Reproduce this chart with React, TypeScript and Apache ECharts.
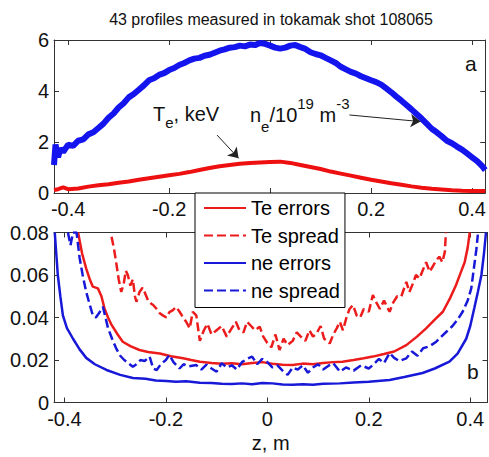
import React, { useEffect, useRef } from "react";
import * as echarts from "echarts";

const FONT = "'Liberation Sans', Arial, sans-serif";
const TITLE = "43 profiles measured in tokamak shot 108065";
const X_TICKS = [-0.4, -0.2, 0, 0.2, 0.4];
// the "0" label of panel a is hidden behind the legend in the reference
const X_LABELS_TOP_PANEL = [-0.4, -0.2, 0.2, 0.4];
const LEGEND_NAMES = ["Te errors", "Te spread", "ne errors", "ne spread"];

// Panel a: electron density profile (n_e / 1e19 m^-3)
const neZ = [-0.428, -0.425, -0.42, -0.415, -0.41, -0.4, -0.39, -0.38, -0.37, -0.36, -0.35, -0.34, -0.33, -0.32, -0.31, -0.3, -0.29, -0.28, -0.27, -0.26, -0.25, -0.24, -0.23, -0.22, -0.21, -0.2, -0.19, -0.18, -0.17, -0.16, -0.15, -0.14, -0.13, -0.12, -0.11, -0.1, -0.09, -0.08, -0.07, -0.06, -0.05, -0.04, -0.03, -0.02, -0.01, 0, 0.01, 0.02, 0.03, 0.04, 0.05, 0.06, 0.07, 0.08, 0.09, 0.1, 0.11, 0.12, 0.13, 0.14, 0.15, 0.16, 0.17, 0.18, 0.19, 0.2, 0.21, 0.22, 0.23, 0.24, 0.25, 0.26, 0.27, 0.28, 0.29, 0.3, 0.31, 0.32, 0.33, 0.34, 0.35, 0.36, 0.37, 0.38, 0.39, 0.4, 0.41, 0.42, 0.426];
const neVal = [1.1, 1.9, 1.4, 1.75, 1.6, 1.9, 1.85, 2.05, 2.1, 2.3, 2.38, 2.55, 2.72, 2.95, 3.12, 3.35, 3.52, 3.75, 3.88, 4.05, 4.22, 4.42, 4.5, 4.63, 4.7, 4.82, 4.9, 5.02, 5.1, 5.2, 5.27, 5.3, 5.38, 5.42, 5.5, 5.58, 5.63, 5.7, 5.72, 5.78, 5.75, 5.82, 5.8, 5.88, 5.85, 5.78, 5.7, 5.66, 5.7, 5.78, 5.8, 5.72, 5.65, 5.52, 5.45, 5.4, 5.3, 5.2, 5.1, 4.95, 4.85, 4.75, 4.68, 4.58, 4.5, 4.42, 4.35, 4.25, 4.1, 3.95, 3.78, 3.62, 3.45, 3.28, 3.1, 2.92, 2.72, 2.52, 2.38, 2.22, 2.05, 1.95, 1.82, 1.7, 1.55, 1.4, 1.25, 1.05, 0.9];

// Panel a: electron temperature profile (keV)
const teZ = [-0.428, -0.42, -0.41, -0.4, -0.38, -0.36, -0.34, -0.32, -0.3, -0.28, -0.26, -0.24, -0.22, -0.2, -0.18, -0.16, -0.14, -0.12, -0.1, -0.08, -0.06, -0.04, -0.02, 0, 0.02, 0.04, 0.06, 0.08, 0.1, 0.12, 0.14, 0.16, 0.18, 0.2, 0.22, 0.24, 0.26, 0.28, 0.3, 0.32, 0.34, 0.36, 0.38, 0.4, 0.426];
const teVal = [0.12, 0.15, 0.22, 0.15, 0.18, 0.25, 0.3, 0.34, 0.4, 0.45, 0.52, 0.58, 0.64, 0.7, 0.75, 0.82, 0.9, 0.98, 1.05, 1.1, 1.15, 1.18, 1.2, 1.22, 1.23, 1.18, 1.1, 1.02, 0.94, 0.84, 0.76, 0.68, 0.6, 0.52, 0.45, 0.38, 0.32, 0.26, 0.21, 0.17, 0.14, 0.11, 0.09, 0.08, 0.08];

// Panel b: Te errors
const teErrZ = [-0.373, -0.365, -0.357, -0.35, -0.344, -0.334, -0.327, -0.321, -0.314, -0.307, -0.295, -0.285, -0.27, -0.252, -0.235, -0.212, -0.19, -0.166, -0.15, -0.133, -0.11, -0.09, -0.07, -0.05, -0.03, -0.01, 0.01, 0.03, 0.05, 0.07, 0.09, 0.11, 0.13, 0.148, 0.17, 0.19, 0.208, 0.23, 0.25, 0.274, 0.295, 0.313, 0.33, 0.346, 0.36, 0.372, 0.381, 0.389, 0.395, 0.399];
const teErrVal = [0.08, 0.07, 0.063, 0.058, 0.0545, 0.0537, 0.05, 0.0443, 0.04, 0.0365, 0.032, 0.0286, 0.0265, 0.0247, 0.0238, 0.0231, 0.0218, 0.0208, 0.02, 0.0192, 0.0186, 0.0182, 0.0185, 0.018, 0.0186, 0.019, 0.0182, 0.0178, 0.0176, 0.0183, 0.018, 0.0186, 0.019, 0.0192, 0.02, 0.0208, 0.0216, 0.0228, 0.024, 0.027, 0.031, 0.0349, 0.039, 0.0427, 0.049, 0.0553, 0.061, 0.066, 0.073, 0.08];

// Panel b: Te spread
const teSprZ = [-0.307, -0.302, -0.298, -0.293, -0.288, -0.283, -0.279, -0.275, -0.27, -0.265, -0.261, -0.258, -0.252, -0.246, -0.242, -0.235, -0.229, -0.225, -0.218, -0.212, -0.206, -0.199, -0.193, -0.186, -0.18, -0.173, -0.166, -0.16, -0.153, -0.147, -0.14, -0.133, -0.125, -0.118, -0.11, -0.1, -0.09, -0.08, -0.07, -0.062, -0.055, -0.047, -0.04, -0.032, -0.024, -0.015, -0.008, 0, 0.008, 0.016, 0.024, 0.032, 0.04, 0.05, 0.058, 0.066, 0.075, 0.083, 0.09, 0.097, 0.105, 0.112, 0.118, 0.123, 0.13, 0.137, 0.143, 0.149, 0.156, 0.162, 0.169, 0.176, 0.183, 0.19, 0.2, 0.208, 0.215, 0.222, 0.23, 0.236, 0.241, 0.248, 0.256, 0.264, 0.27, 0.274, 0.28, 0.287, 0.293, 0.3, 0.306, 0.313, 0.32, 0.326, 0.333, 0.339, 0.345, 0.35, 0.352];
const teSprVal = [0.078, 0.072, 0.066, 0.058, 0.052, 0.056, 0.062, 0.06, 0.055, 0.058, 0.05, 0.0474, 0.052, 0.054, 0.052, 0.048, 0.0465, 0.0459, 0.044, 0.042, 0.041, 0.04, 0.0425, 0.0435, 0.045, 0.0427, 0.04, 0.038, 0.0349, 0.0427, 0.041, 0.029, 0.034, 0.037, 0.032, 0.034, 0.036, 0.031, 0.035, 0.038, 0.034, 0.033, 0.038, 0.036, 0.034, 0.0357, 0.031, 0.028, 0.026, 0.032, 0.0247, 0.03, 0.027, 0.029, 0.033, 0.031, 0.029, 0.034, 0.031, 0.0325, 0.036, 0.03, 0.029, 0.0278, 0.032, 0.035, 0.038, 0.034, 0.04, 0.044, 0.0459, 0.041, 0.04, 0.044, 0.0427, 0.0506, 0.047, 0.044, 0.048, 0.045, 0.0427, 0.047, 0.05, 0.0498, 0.054, 0.0568, 0.052, 0.056, 0.06, 0.0584, 0.062, 0.066, 0.0616, 0.064, 0.067, 0.0686, 0.066, 0.071, 0.08];

// Panel b: ne errors
const neErrZ = [-0.419, -0.416, -0.413, -0.408, -0.403, -0.395, -0.383, -0.37, -0.357, -0.34, -0.317, -0.29, -0.265, -0.24, -0.22, -0.199, -0.18, -0.16, -0.133, -0.11, -0.09, -0.07, -0.05, -0.03, -0.01, 0.01, 0.03, 0.05, 0.07, 0.09, 0.11, 0.143, 0.17, 0.2, 0.241, 0.27, 0.306, 0.33, 0.359, 0.375, 0.392, 0.4, 0.408, 0.415, 0.422, 0.427, 0.431];
const neErrVal = [0.08, 0.07, 0.06, 0.05, 0.041, 0.035, 0.03, 0.025, 0.021, 0.018, 0.0153, 0.013, 0.0115, 0.0112, 0.0104, 0.0101, 0.0098, 0.01, 0.0093, 0.0092, 0.0088, 0.0087, 0.009, 0.0086, 0.0092, 0.009, 0.0085, 0.0084, 0.0086, 0.0084, 0.0088, 0.009, 0.0094, 0.0098, 0.0106, 0.012, 0.0139, 0.016, 0.0192, 0.023, 0.03, 0.036, 0.0445, 0.052, 0.06, 0.07, 0.08];

// Panel b: ne spread
const neSprZ = [-0.393, -0.388, -0.383, -0.376, -0.37, -0.364, -0.357, -0.35, -0.344, -0.338, -0.332, -0.324, -0.319, -0.314, -0.306, -0.298, -0.29, -0.282, -0.274, -0.265, -0.258, -0.25, -0.242, -0.232, -0.225, -0.218, -0.21, -0.2, -0.193, -0.185, -0.173, -0.165, -0.155, -0.14, -0.13, -0.12, -0.11, -0.1, -0.09, -0.08, -0.07, -0.06, -0.05, -0.04, -0.03, -0.02, -0.01, 0, 0.01, 0.02, 0.03, 0.04, 0.05, 0.06, 0.07, 0.08, 0.09, 0.1, 0.11, 0.12, 0.13, 0.143, 0.155, 0.17, 0.185, 0.2, 0.208, 0.22, 0.23, 0.241, 0.25, 0.26, 0.274, 0.285, 0.296, 0.307, 0.32, 0.333, 0.343, 0.353, 0.365, 0.375, 0.385, 0.395, 0.402, 0.408, 0.412, 0.415];
const neSprVal = [0.08, 0.074, 0.08, 0.08, 0.068, 0.06, 0.052, 0.046, 0.041, 0.04, 0.042, 0.045, 0.04, 0.035, 0.03, 0.0255, 0.022, 0.02, 0.0185, 0.0168, 0.018, 0.02, 0.0195, 0.0216, 0.016, 0.0153, 0.018, 0.02, 0.0224, 0.019, 0.016, 0.018, 0.017, 0.0176, 0.0155, 0.0178, 0.016, 0.0145, 0.0185, 0.0165, 0.0175, 0.0155, 0.019, 0.0205, 0.0216, 0.018, 0.0205, 0.019, 0.0165, 0.0175, 0.015, 0.013, 0.0165, 0.0155, 0.0175, 0.014, 0.0165, 0.018, 0.0155, 0.0172, 0.0185, 0.0145, 0.0165, 0.015, 0.0175, 0.016, 0.0176, 0.0205, 0.0185, 0.0233, 0.021, 0.0195, 0.0208, 0.024, 0.022, 0.0255, 0.0265, 0.0286, 0.031, 0.0333, 0.036, 0.039, 0.0427, 0.048, 0.0537, 0.0647, 0.072, 0.079];

// Arrow annotations in data coordinates of panel a
const teArrow = [[-0.105, 2.27], [-0.0624, 1.36]];
const neArrow = [[0.157, 3.06], [0.298, 2.8]];

const pairs = (xs: number[], ys: number[]) => xs.map((x, i) => [x, ys[i]]);

const RED = "#ec1c1c";
const BLUE = "#1818d8";
const AXIS_COLOR = "#333";
const FS = 20;

function makeXAxis(gridIndex: number, min: number, max: number, top: boolean, labels: number[]) {
  return {
    type: "value",
    gridIndex,
    min,
    max,
    position: top ? "top" : "bottom",
    axisLine: { show: true, onZero: false, lineStyle: { color: AXIS_COLOR, width: 1 } },
    axisTick: { show: true, inside: true, length: 5, customValues: X_TICKS, lineStyle: { color: AXIS_COLOR } },
    axisLabel: {
      show: !top,
      customValues: labels,
      margin: 6,
      fontSize: FS,
      fontFamily: FONT,
      color: "#111",
      formatter: (v: number) => (Math.abs(v) < 1e-9 ? "0" : String(Number(v.toFixed(1)))),
    },
    splitLine: { show: false },
  };
}

function makeYAxis(gridIndex: number, min: number, max: number, interval: number, right: boolean, digits: number) {
  return {
    type: "value",
    gridIndex,
    min,
    max,
    interval,
    position: right ? "right" : "left",
    axisLine: { show: true, onZero: false, lineStyle: { color: AXIS_COLOR, width: 1 } },
    axisTick: { show: true, inside: true, length: 5, lineStyle: { color: AXIS_COLOR } },
    axisLabel: {
      show: !right,
      margin: 5,
      fontSize: FS,
      fontFamily: FONT,
      color: "#111",
      formatter: (v: number) => (Math.abs(v) < 1e-12 ? "0" : v.toFixed(digits)),
    },
    splitLine: { show: false },
  };
}

function richTxt(text: string, x: number, y: number, rich: any) {
  return {
    type: "text",
    x,
    y,
    z: 50,
    style: {
      text,
      rich,
      fontSize: FS,
      fontFamily: FONT,
      fill: "#111",
      textAlign: "left",
      textVerticalAlign: "middle",
    },
  };
}

function txt(text: string, x: number, y: number, size: number, align = "left") {
  return {
    type: "text",
    x,
    y,
    z: 50,
    style: {
      text,
      fontSize: size,
      fontFamily: FONT,
      fill: "#111",
      textAlign: align,
      textVerticalAlign: "middle",
    },
  };
}

export default function App() {
  const ref = useRef<HTMLDivElement>(null);
  useEffect(() => {
    if (!ref.current) return;
    const chart = echarts.init(ref.current, undefined, { renderer: "svg" });
    const option: any = {
      animation: false,
      backgroundColor: "#ffffff",
      grid: [
        { left: 54, top: 40, width: 433.5, height: 153 },
        { left: 54, top: 232.5, width: 433.5, height: 170 },
      ],
      xAxis: [
        makeXAxis(0, -0.428, 0.426, false, X_LABELS_TOP_PANEL),
        makeXAxis(0, -0.428, 0.426, true, X_LABELS_TOP_PANEL),
        {
          ...makeXAxis(1, -0.4205, 0.434, false, X_TICKS),
          name: "z, m",
          nameLocation: "middle",
          nameGap: 30,
          nameTextStyle: { fontSize: FS, fontFamily: FONT, color: "#111" },
        },
        makeXAxis(1, -0.4205, 0.434, true, X_TICKS),
      ],
      yAxis: [
        makeYAxis(0, 0, 6, 2, false, 0),
        makeYAxis(0, 0, 6, 2, true, 0),
        makeYAxis(1, 0, 0.08, 0.02, false, 2),
        makeYAxis(1, 0, 0.08, 0.02, true, 2),
      ],
      legend: {
        data: LEGEND_NAMES,
        orient: "vertical",
        left: 195,
        top: 193,
        padding: [5, 5, 7, 8],
        itemGap: 7.5,
        itemWidth: 42,
        itemHeight: 14,
        backgroundColor: "#ffffff",
        borderColor: "#000",
        borderWidth: 1,
        borderRadius: 0,
        selectedMode: false,
        z: 20,
        itemStyle: { opacity: 0 },
        textStyle: { fontSize: FS, fontFamily: FONT, color: "#000", lineHeight: 20 },
      },
      series: [
        {
          name: "ne profile",
          type: "line",
          xAxisIndex: 0,
          yAxisIndex: 0,
          data: pairs(neZ, neVal),
          symbol: "none",
          lineStyle: { color: "#1414ee", width: 6 },
          z: 2,
          markLine: {
            silent: true,
            symbol: ["none", "arrow"],
            symbolSize: 10,
            label: { show: false },
            lineStyle: { color: "#222", width: 1, type: "solid" },
            data: [
              [{ coord: teArrow[0] }, { coord: teArrow[1] }],
              [{ coord: neArrow[0] }, { coord: neArrow[1] }],
            ],
          },
        },
        {
          name: "Te profile",
          type: "line",
          xAxisIndex: 0,
          yAxisIndex: 0,
          data: pairs(teZ, teVal),
          symbol: "none",
          lineStyle: { color: "#ee1010", width: 4 },
          z: 3,
        },
        {
          name: "Te errors",
          type: "line",
          xAxisIndex: 2,
          yAxisIndex: 2,
          data: pairs(teErrZ, teErrVal),
          symbol: "none",
          itemStyle: { color: RED },
          lineStyle: { color: RED, width: 2.5 },
        },
        {
          name: "Te spread",
          type: "line",
          xAxisIndex: 2,
          yAxisIndex: 2,
          data: pairs(teSprZ, teSprVal),
          symbol: "none",
          itemStyle: { color: RED },
          lineStyle: { color: RED, width: 2.5, type: [9, 4] },
        },
        {
          name: "ne errors",
          type: "line",
          xAxisIndex: 2,
          yAxisIndex: 2,
          data: pairs(neErrZ, neErrVal),
          symbol: "none",
          itemStyle: { color: BLUE },
          lineStyle: { color: BLUE, width: 2.5 },
        },
        {
          name: "ne spread",
          type: "line",
          xAxisIndex: 2,
          yAxisIndex: 2,
          data: pairs(neSprZ, neSprVal),
          symbol: "none",
          itemStyle: { color: BLUE },
          lineStyle: { color: BLUE, width: 2.5, type: [9, 4] },
        },
      ],
      graphic: [
        txt(TITLE, 271, 19.5, 16, "center"),
        richTxt("{m|T}{s|e}{m|, keV}", 153, 113.6, {
          m: { fontSize: FS, fontFamily: FONT, lineHeight: 33.4, fill: "#111" },
          s: { fontSize: 15, fontFamily: FONT, lineHeight: 15, verticalAlign: "bottom", fill: "#111" },
        }),
        richTxt("{m|n}{s|e}{m|/10}{u|19}{m| m}{u|-3}", 250, 115.1, {
          m: { fontSize: FS, fontFamily: FONT, lineHeight: 38.4, fill: "#111" },
          s: { fontSize: 15, fontFamily: FONT, lineHeight: 15, verticalAlign: "bottom", fill: "#111" },
          u: { fontSize: 15, fontFamily: FONT, lineHeight: 23.8, verticalAlign: "top", fill: "#111" },
        }),
        txt("a", 465, 63, 21),
        txt("b", 467, 371, 21),
      ],
    };
    chart.setOption(option);
    return () => chart.dispose();
  }, []);
  return (
    <div
      ref={ref}
      style={{ position: "fixed", left: 0, top: 0, width: 489, height: 457, background: "#fff" }}
    />
  );
}
